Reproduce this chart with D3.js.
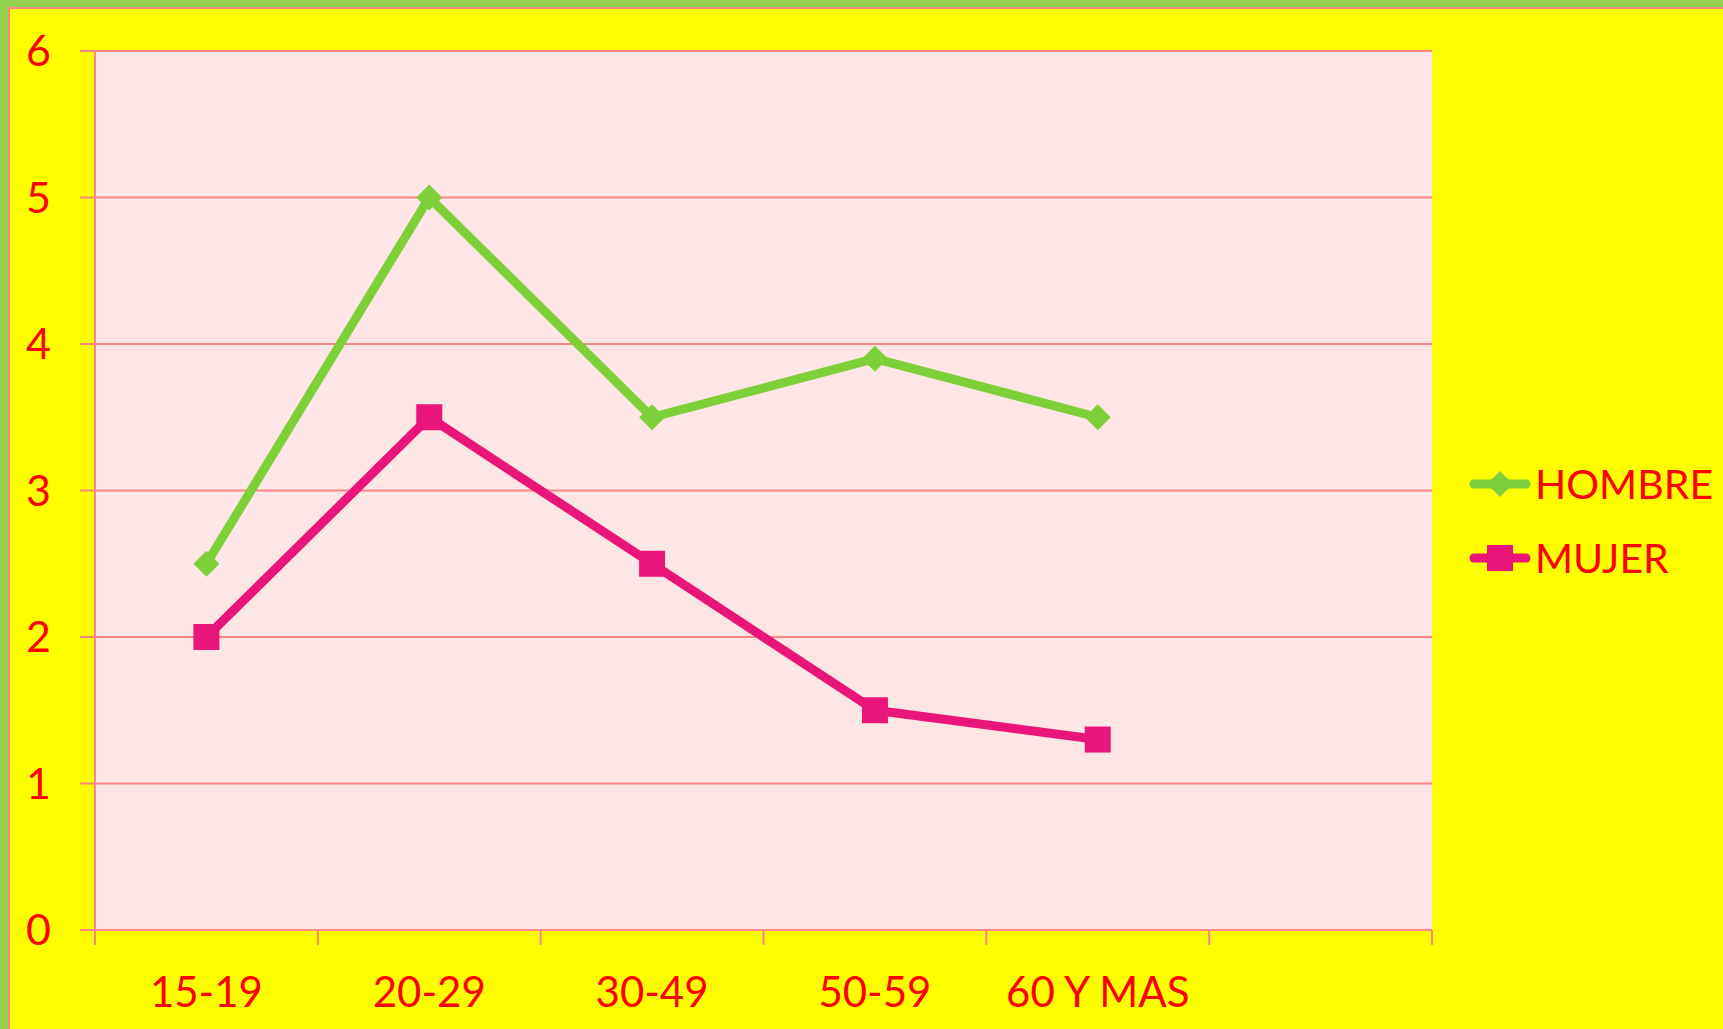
<!DOCTYPE html>
<html lang="es">
<head>
<meta charset="UTF-8">
<title>Hombre / Mujer por edad</title>
<script src="https://d3js.org/d3.v7.min.js"></script>
<style>
    body { margin: 0; overflow: hidden; background: #ffff00; }
    svg { display: block; }
    text { font-family: Lato, "Open Sans", sans-serif; fill: #ff0000; }
</style>
</head>
<body>
<script>
    // chart data
    const categories = ["15-19", "20-29", "30-49", "50-59", "60 Y MAS"];
    const hombre = [2.5, 5, 3.5, 3.9, 3.5];
    const mujer = [2, 3.5, 2.5, 1.5, 1.3];
    const yTicks = [0, 1, 2, 3, 4, 5, 6];

    const series = [
        { name: "HOMBRE", values: hombre, color: "#7ed03a", marker: "diamond" },
        { name: "MUJER", values: mujer, color: "#ea157a", marker: "square" }
    ];

    const width = 1723, height = 1029;
    const plot = { left: 95, top: 51, right: 1432, bottom: 930 };
    const grid = "#ff8686";

    const svg = d3.select("body").append("svg")
        .attr("width", width)
        .attr("height", height);

    // outer frame
    svg.append("rect").attr("width", width).attr("height", height).attr("fill", "#92d050");
    svg.append("rect")
        .attr("x", 9).attr("y", 8)
        .attr("width", width + 10).attr("height", height + 10)
        .attr("fill", "#ffff00")
        .attr("stroke", grid).attr("stroke-width", 2);

    // one empty slot after the last category, like the original
    const x = d3.scaleBand()
        .domain(d3.range(categories.length + 1))
        .range([plot.left, plot.right])
        .padding(0);
    const y = d3.scaleLinear().domain([0, 6]).range([plot.bottom, plot.top]);

    svg.append("rect")
        .attr("x", plot.left).attr("y", plot.top)
        .attr("width", plot.right - plot.left).attr("height", plot.bottom - plot.top)
        .attr("fill", "#ffe6e6");

    // gridlines + y labels
    svg.append("g").selectAll("line")
        .data(yTicks)
        .join("line")
        .attr("x1", plot.left - 15).attr("x2", plot.right)
        .attr("y1", d => y(d)).attr("y2", d => y(d))
        .attr("stroke", grid).attr("stroke-width", 2);

    svg.append("g").selectAll("text")
        .data(yTicks)
        .join("text")
        .attr("x", 51)
        .attr("y", d => y(d) + 15)
        .attr("text-anchor", "end")
        .attr("font-size", 43)
        .text(d => d);

    // axes lines
    svg.append("line")
        .attr("x1", plot.left).attr("x2", plot.left)
        .attr("y1", plot.top).attr("y2", plot.bottom + 15)
        .attr("stroke", grid).attr("stroke-width", 2);

    const boundaries = x.domain().map(i => x(i)).concat([plot.right]);
    svg.append("g").selectAll("line")
        .data(boundaries.slice(1))
        .join("line")
        .attr("x1", d => d).attr("x2", d => d)
        .attr("y1", plot.bottom).attr("y2", plot.bottom + 15)
        .attr("stroke", grid).attr("stroke-width", 2);

    svg.append("g").selectAll("text")
        .data(categories)
        .join("text")
        .attr("x", (d, i) => x(i) + x.bandwidth() / 2)
        .attr("y", 1007)
        .attr("text-anchor", "middle")
        .attr("font-size", 42)
        .text(d => d);

    // lines
    const cx = i => x(i) + x.bandwidth() / 2;
    const line = d3.line().x((d, i) => cx(i)).y(d => y(d));

    function drawMarker(g, type, px, py, color) {
        if (type === "diamond") {
            g.append("path")
                .attr("d", d3.symbol(d3.symbolSquare, 26 * 26 * 0.5)())
                .attr("transform", `translate(${px},${py}) rotate(45)`)
                .attr("fill", color);
        } else {
            g.append("rect")
                .attr("x", px - 13).attr("y", py - 13)
                .attr("width", 26).attr("height", 26)
                .attr("fill", color);
        }
    }

    series.forEach(s => {
        const g = svg.append("g");
        g.append("path")
            .attr("d", line(s.values))
            .attr("fill", "none")
            .attr("stroke", s.color)
            .attr("stroke-width", 9)
            .attr("stroke-linejoin", "round");
        s.values.forEach((v, i) => drawMarker(g, s.marker, cx(i), y(v), s.color));
    });

    // legend
    const legendY = [484, 558];
    series.forEach((s, i) => {
        const g = svg.append("g");
        g.append("line")
            .attr("x1", 1474).attr("x2", 1526)
            .attr("y1", legendY[i]).attr("y2", legendY[i])
            .attr("stroke", s.color).attr("stroke-width", 9)
            .attr("stroke-linecap", "round");
        drawMarker(g, s.marker, 1500, legendY[i], s.color);
        g.append("text")
            .attr("x", 1535)
            .attr("y", legendY[i] + 15)
            .attr("font-size", 41)
            .text(s.name);
    });
</script>
</body>
</html>
